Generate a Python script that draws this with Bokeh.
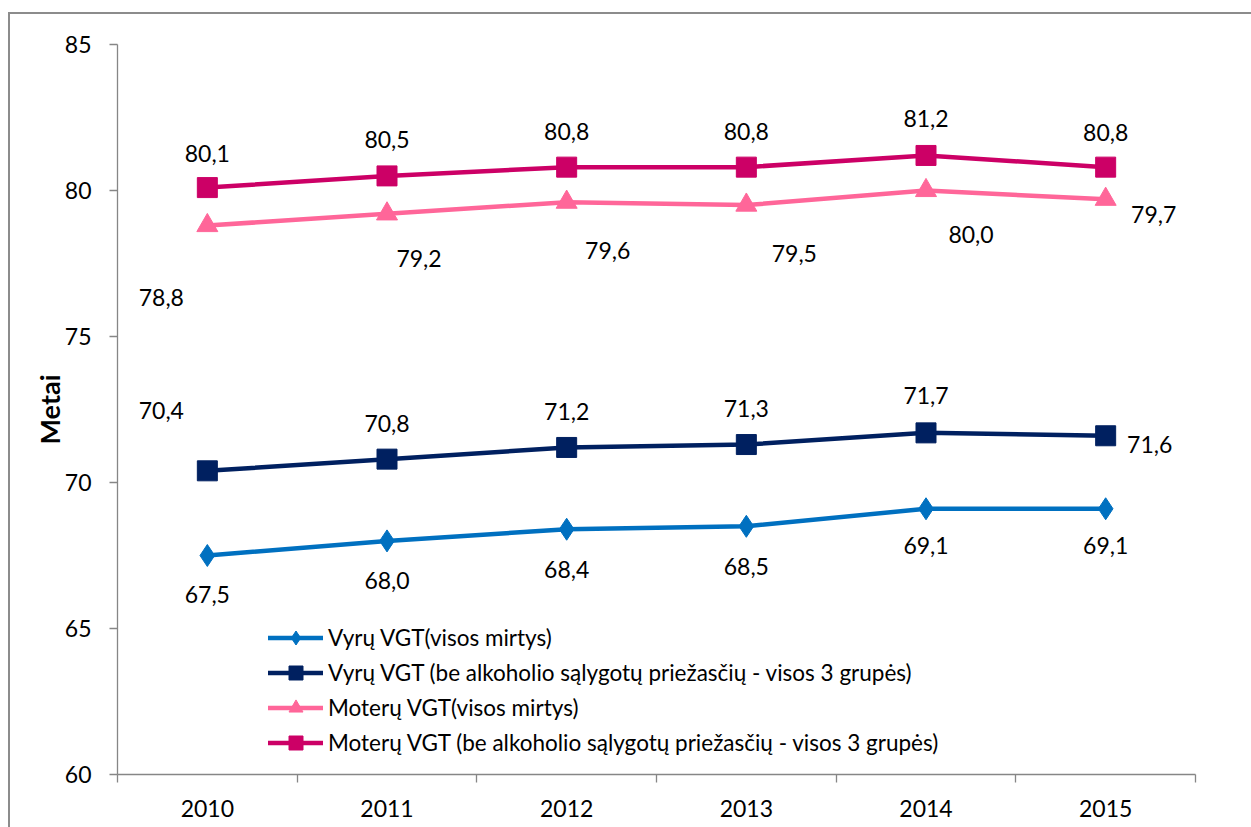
import numpy as np
from bokeh.plotting import figure
from bokeh.models import ColumnDataSource, FixedTicker, Legend, LegendItem
from bokeh.core.properties import value
from bokeh.embed import file_html
from bokeh.resources import INLINE

# ---------------- data ----------------
years = ["2010", "2011", "2012", "2013", "2014", "2015"]
vyru_visos = [67.5, 68.0, 68.4, 68.5, 69.1, 69.1]
vyru_be = [70.4, 70.8, 71.2, 71.3, 71.7, 71.6]
moteru_visos = [78.8, 79.2, 79.6, 79.5, 80.0, 79.7]
moteru_be = [80.1, 80.5, 80.8, 80.8, 81.2, 80.8]
series_names = [
    "Vyrų VGT(visos mirtys)",
    "Vyrų VGT (be alkoholio sąlygotų priežasčių - visos 3 grupės)",
    "Moterų VGT(visos mirtys)",
    "Moterų VGT (be alkoholio sąlygotų priežasčių - visos 3 grupės)",
]
y_ticks = [60, 65, 70, 75, 80, 85]
y_title = "Metai"

# ---------------- styles ----------------
FONT = "Lato"
AXIS_COLOR = "#868686"
FRAME_COLOR = "#8c8c8c"
colors = ["#0070C0", "#002060", "#FF6699", "#CC0066"]
markers = ["diamond", "square", "triangle", "square"]
marker_sizes = [22, 20, 21, 20]
# data-label offsets in pixels (dx, dy; dy positive = down)
label_dx = [
    [0, 0, 0, 0, 0, 0],
    [-46, 0, 0, 0, 0, 44],
    [-46, 32, 41, 48, 45, 48],
    [0, 0, 0, 0, 0, 0],
]
label_dy = [
    [39, 40, 40, 40, 37, 37],
    [-60, -36, -36, -36, -37, 9],
    [72, 45, 48, 48, 44, 15],
    [-34, -36, -36, -36, -37, -35],
]

series_values = [vyru_visos, vyru_be, moteru_visos, moteru_be]
x = np.arange(len(years)) + 0.5

p = figure(
    width=1251, height=827,
    x_range=(0, len(years)), y_range=(y_ticks[0], y_ticks[-1]),
    output_backend="svg", toolbar_location=None,
    min_border_left=117, min_border_right=56,
    min_border_top=44, min_border_bottom=53,
)
p.grid.visible = False
p.outline_line_color = None
p.background_fill_color = "white"
p.border_fill_color = None
# outer chart-area border (left and top edges visible in the reference)
p.styles = {
    "background-color": "white",
    "background-image": f"linear-gradient({FRAME_COLOR},{FRAME_COLOR}), linear-gradient({FRAME_COLOR},{FRAME_COLOR})",
    "background-repeat": "no-repeat",
    "background-size": "2px 100%, 100% 2px",
    "background-position": "8px 12px, 8px 12px",
}

items = []
for i, vals in enumerate(series_values):
    src = ColumnDataSource(dict(
        x=x, y=vals,
        lbl=[f"{v:.1f}".replace(".", ",") for v in vals],
        dx=label_dx[i], dy=label_dy[i],
    ))
    lr = p.line("x", "y", source=src, line_color=colors[i], line_width=4.5, line_cap="round")
    mr = p.scatter("x", "y", source=src, marker=markers[i], size=marker_sizes[i],
                   fill_color=colors[i], line_color=colors[i])
    p.text("x", "y", text="lbl", source=src, x_offset="dx", y_offset="dy",
           text_align="center", text_baseline="middle",
           text_font=value(FONT), text_font_size="23px", text_color="black")
    items.append(LegendItem(label=series_names[i], renderers=[lr, mr]))

legend = Legend(
    items=items, location=(151, 14),
    label_text_font=FONT, label_text_font_size="22.5px", label_text_color="black",
    glyph_width=55, glyph_height=35, label_height=35, label_standoff=5,
    spacing=0, padding=0, margin=0,
    border_line_color=None, background_fill_alpha=0,
)
p.add_layout(legend)

# y axis
yax = p.yaxis[0]
yax.ticker = FixedTicker(ticks=y_ticks)
yax.axis_line_color = AXIS_COLOR
yax.axis_line_width = 1.3
yax.major_tick_line_color = AXIS_COLOR
yax.major_tick_line_width = 1.3
yax.major_tick_out = 8
yax.major_tick_in = 0
yax.minor_tick_line_color = None
yax.major_label_text_font = FONT
yax.major_label_text_font_size = "23px"
yax.major_label_text_color = "black"
yax.major_label_standoff = 18
yax.axis_label = y_title
yax.axis_label_text_font = FONT
yax.axis_label_text_font_style = "bold"
yax.axis_label_text_font_size = "27px"
yax.axis_label_text_color = "black"
yax.axis_label_standoff = -4

# x axis
xax = p.xaxis[0]
xax.ticker = FixedTicker(ticks=list(x), minor_ticks=list(range(len(years) + 1)))
xax.major_label_overrides = {float(xi): yr for xi, yr in zip(x, years)}
xax.axis_line_color = AXIS_COLOR
xax.axis_line_width = 1.3
xax.major_tick_line_color = None
xax.major_tick_out = 0
xax.major_tick_in = 0
xax.minor_tick_line_color = AXIS_COLOR
xax.minor_tick_line_width = 1.3
xax.minor_tick_out = 8
xax.minor_tick_in = 0
xax.major_label_text_font = FONT
xax.major_label_text_font_size = "23px"
xax.major_label_text_color = "black"
xax.major_label_standoff = 17

open("out.html", "w").write(file_html(p, INLINE))
